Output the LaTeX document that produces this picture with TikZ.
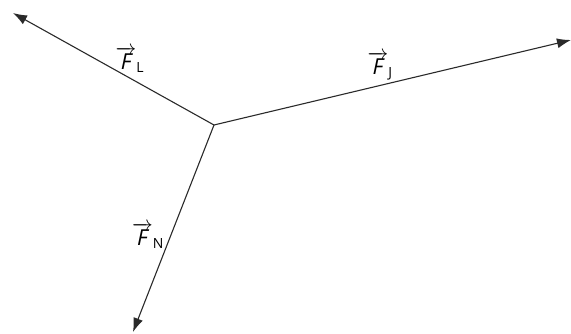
\documentclass[tikz,border=0pt]{standalone}
\usepackage{fontspec}
\setmainfont{Open Sans}
\usepackage{tikz}
\usetikzlibrary{arrows.meta}
\definecolor{forcegray}{HTML}{2A2A2A}

\begin{document}
\begin{tikzpicture}[x=1pt,y=-1pt,font=\fontsize{22}{26}\selectfont,
    force/.style={draw=forcegray,line width=1.1pt,-{Latex[length=14pt,width=10pt]}}]
    \useasboundingbox (0,0) rectangle (571,334);
    \coordinate (O) at (214,125);
    \coordinate (L) at (13,13);
    \coordinate (J) at (571,40);
    \coordinate (N) at (133,332);
    \draw[force] (O) -- (L);
    \draw[force] (O) -- (J);
    \draw[force] (O) -- (N);
    \node (labL) at (130,60) {$\overrightarrow{\textit{F}}_{\textup{\fontsize{14}{16}\selectfont L}}$};
    \node (labJ) at (380,66) {$\overrightarrow{\textit{F}}_{\textup{\fontsize{14}{16}\selectfont J}}$};
    \node (labN) at (148,236) {$\overrightarrow{\textit{F}}_{\textup{\fontsize{14}{16}\selectfont N}}$};
  \end{tikzpicture}
\end{document}
